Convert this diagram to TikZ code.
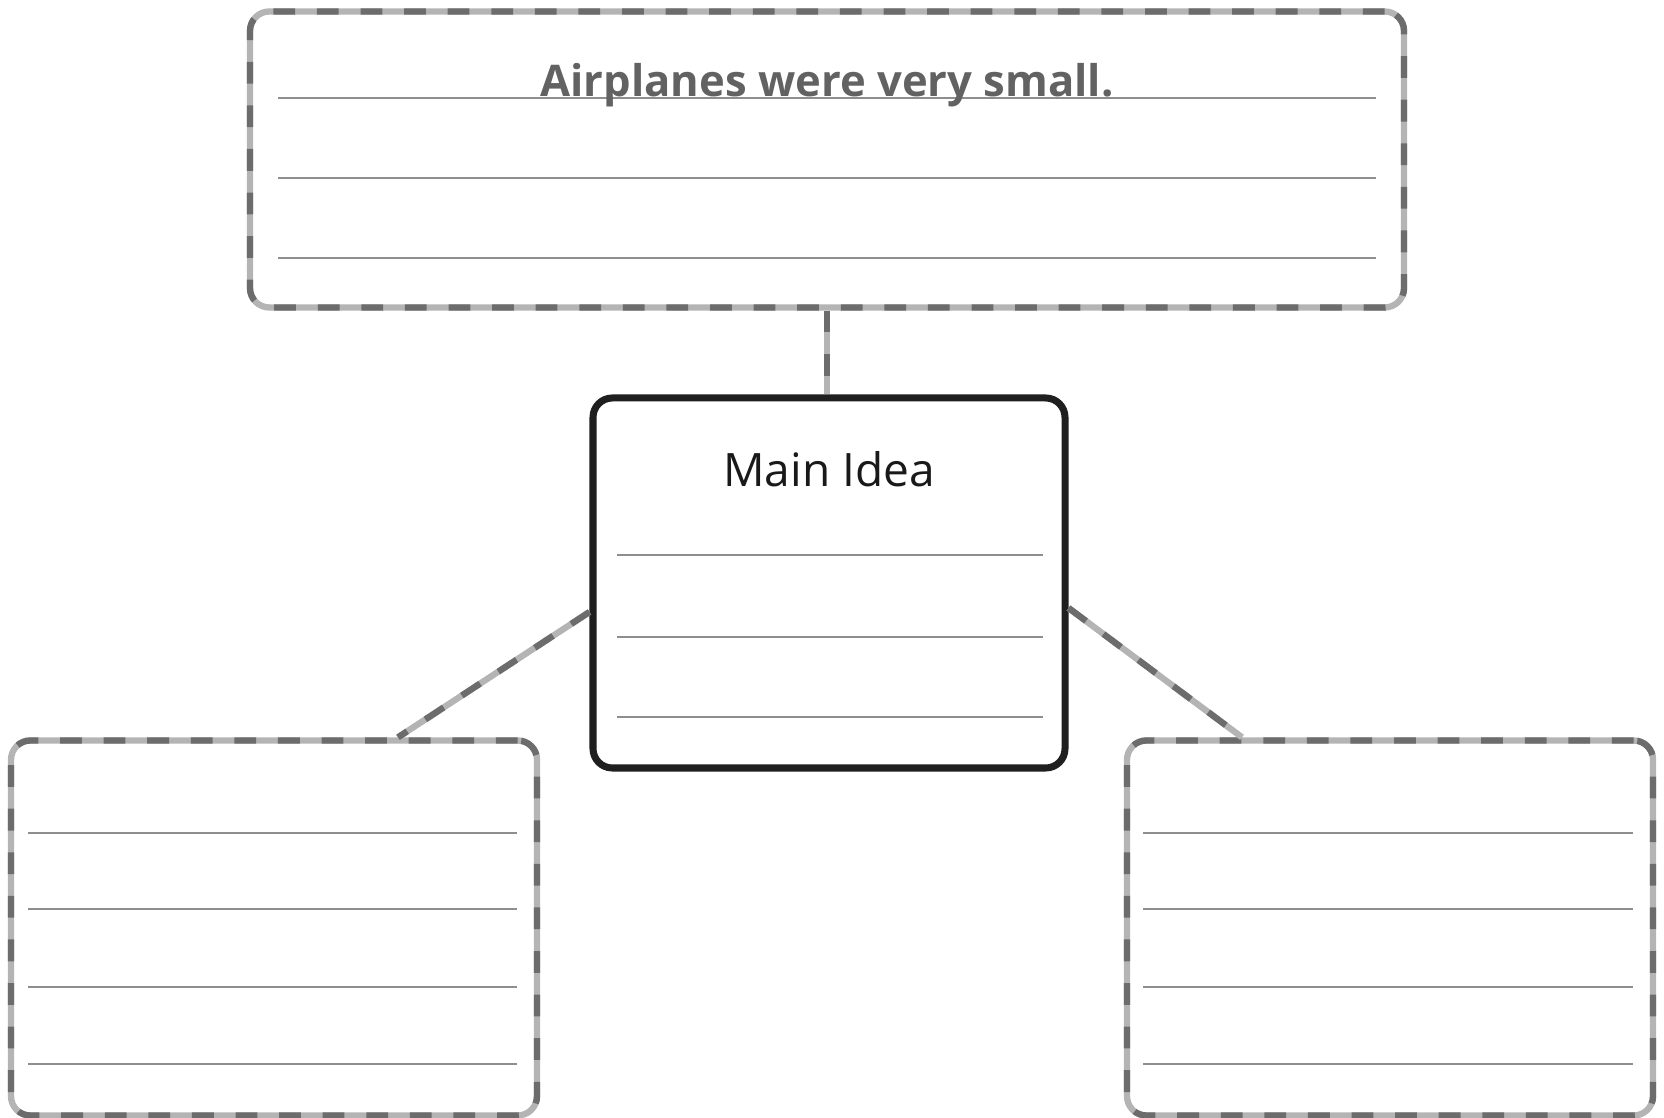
\documentclass[tikz,border=0pt]{standalone}
\usepackage{fontspec}
\setmainfont{Open Sans}
\usepackage{xcolor}
\definecolor{dashlight}{HTML}{B4B4B4}
\definecolor{dashdark}{HTML}{6C6C6C}
\definecolor{ruleline}{HTML}{8E8E8E}
\definecolor{textgrey}{HTML}{626262}

\begin{document}
\begin{tikzpicture}[dashbox/.style={draw=dashlight,line width=1.8pt,rounded corners=5.5pt,minimum width=#1,postaction={draw=dashdark,dash pattern=on 6.2pt off 6.2pt}},
  dashlink/.style={draw=dashlight,line width=1.8pt,postaction={draw=dashdark,dash pattern=on 6.2pt off 6.2pt}},
  mainbox/.style={draw=black!88,line width=2pt,rounded corners=5.5pt,minimum width=4.72cm,minimum height=3.70cm},
  ruled/.style={draw=ruleline,line width=0.8pt}]
\useasboundingbox (0,0) rectangle (16.64,11.18);
\node[dashbox=11.54cm,minimum height=2.96cm] (detailtop) at (8.27,9.585) {};
\node[mainbox] (main) at (8.29,5.35) {};
\node[dashbox=5.26cm,minimum height=3.75cm] (detailleft) at (2.74,1.90) {};
\node[dashbox=5.26cm,minimum height=3.75cm] (detailright) at (13.90,1.90) {};
\foreach \y in {10.20,9.40,8.60} \draw[ruled] (2.78,\y) -- (13.76,\y);
\foreach \y in {5.63,4.81,4.01} \draw[ruled] (6.17,\y) -- (10.43,\y);
\foreach \y in {2.85,2.09,1.31,0.54} {
  \draw[ruled] (0.28,\y) -- (5.17,\y);
  \draw[ruled] (11.43,\y) -- (16.33,\y);
}
\node[anchor=base,font=\fontsize{12.4}{15}\selectfont\bfseries,text=textgrey] (detailtext) at (8.27,10.21) {Airplanes were very small.};
\node[anchor=base,font=\fontsize{13.1}{16}\selectfont,text=black!90] (maintitle) at (8.29,6.31) {Main Idea};
\draw[dashlink] (detailtop.south) -- (detailtop.south |- main.north);
\draw[dashlink] ([yshift=-2.9mm]main.west) -- ([xshift=1.24cm]detailleft.north);
\draw[dashlink] ([yshift=-2.5mm]main.east) -- ([xshift=-1.48cm]detailright.north);
\end{tikzpicture}
\end{document}
